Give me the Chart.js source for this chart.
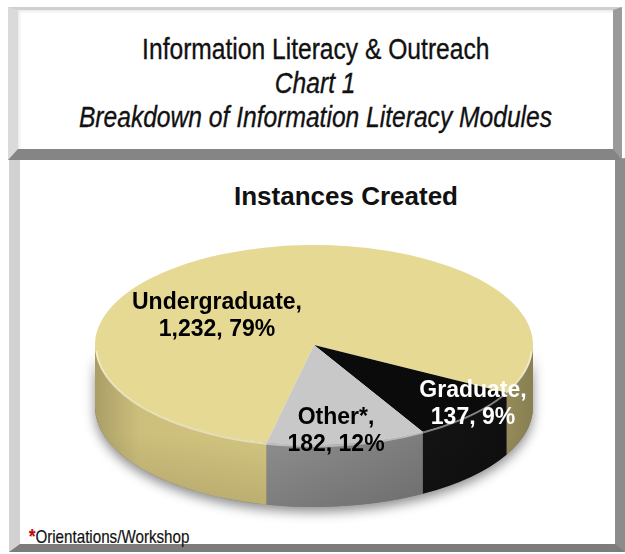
<!DOCTYPE html>
<html>
<head>
<meta charset="utf-8">
<script src="https://cdn.jsdelivr.net/npm/chart.js@4.4.1/dist/chart.umd.min.js"></script>
<style>
  html, body { margin: 0; padding: 0; background: #fff; }
  body { width: 625px; height: 554px; position: relative; overflow: hidden; font-family: "Liberation Sans", Arial, sans-serif; }
  .box { position: absolute; box-sizing: border-box; background: #fff; border-style: solid; }
  #head { left: 8px; top: 7px; width: 614px; height: 153px; z-index: 2;
    border-width: 3px 9px 11px 10px; border-color: #cfcfcf #9a9a9a #858585 #dadada;
    box-shadow: inset 2px 2px 3px rgba(0,0,0,0.08); padding-top: 22px; text-align: center; }
  #panel { left: 9px; top: 158px; width: 616px; height: 394px; z-index: 1;
    border-width: 2px 10px 8px 11px; border-color: #c8c8c8 #8c8c8c #7c7c7c #d2d2d2; }
  .line { font-size: 30px; line-height: 34px; color: #111; white-space: nowrap; -webkit-text-stroke: 0.35px #111; }
  .line span { display: inline-block; transform: scaleX(0.82); }
  .it { font-style: italic; }
  #sub { position: absolute; left: 0; width: 692px; top: 181px; text-align: center; z-index: 3;
    font-weight: bold; font-size: 26px; color: #111; }
  #note { position: absolute; left: 29px; top: 525px; z-index: 3; font-size: 18.5px; color: #111;
    transform: scaleX(0.82); transform-origin: left center; white-space: nowrap; -webkit-text-stroke: 0.2px #111; }
  #note b { color: #e00000; font-weight: bold; font-size: 20px; }
  #pie { position: absolute; left: 0; top: 0; z-index: 4; }
</style>
</head>
<body>
<div class="box" id="head">
  <div class="line"><span>Information Literacy &amp; Outreach</span></div>
  <div class="line it"><span>Chart 1</span></div>
  <div class="line it"><span>Breakdown of Information Literacy Modules</span></div>
</div>
<div class="box" id="panel"></div>
<div id="sub">Instances Created</div>
<div id="note"><b>*</b>Orientations/Workshop</div>
<div style="position:absolute;left:0;top:0;width:625px;height:554px;z-index:4;">
  <canvas id="pie"></canvas>
</div>

<script>
const categories = ['Undergraduate', 'Graduate', 'Other*'];
const instances = [1232, 137, 182];

const topColors = ['#e6d994', '#0b0b0b', '#c8c8c8'];
const sideColors = ['#d4c680', '#161616', '#8e8e8e'];
const labelColors = ['#000', '#fff', '#000'];
// label anchors, offset from the pie centre in px
const labelOffsets = [[-97, -29], [159, 59], [22, 86]];

const PIE_CX = 314, PIE_CY = 345;   // on-screen centre of the top face
const TILT = 100 / 219;             // vertical squash of the disc
const DEPTH = 62;                   // thickness of the disc

const total = instances.reduce((a, b) => a + b, 0);

function shade(hex, f) {
  const n = parseInt(hex.slice(1), 16);
  const c = [(n >> 16) & 255, (n >> 8) & 255, n & 255].map(v => Math.max(0, Math.min(255, Math.round(v * f))));
  return `rgb(${c[0]},${c[1]},${c[2]})`;
}

function sidePath(ctx, cx, cy, rx, ry, a, b) {
  ctx.beginPath();
  ctx.ellipse(cx, cy, rx, ry, 0, a, b, false);
  ctx.ellipse(cx, cy + DEPTH, rx, ry, 0, b, a, true);
  ctx.closePath();
}

const tiltedPie = {
  id: 'tiltedPie',
  beforeDatasetsDraw(chart) {
    const ctx = chart.ctx;
    const arcs = chart.getDatasetMeta(0).data;
    const r = arcs[0].outerRadius, ry = r * TILT;
    const cx = PIE_CX, cy = PIE_CY;

    // drop shadow under the disc
    ctx.save();
    ctx.shadowColor = 'rgba(0,0,0,0.45)';
    ctx.shadowBlur = 12;
    ctx.shadowOffsetY = 5;
    sidePath(ctx, cx, cy, r, ry, 0, Math.PI);
    ctx.fillStyle = '#777';
    ctx.fill();
    ctx.restore();

    // front wall of each slice
    arcs.forEach((arc, i) => {
      const s = arc.startAngle, e = arc.endAngle;
      const g = ctx.createLinearGradient(cx - r, 0, cx + r, 0);
      const base = sideColors[i];
      g.addColorStop(0, shade(base, 0.8));
      g.addColorStop(0.1, shade(base, 0.96));
      g.addColorStop(0.4, shade(base, 1.0));
      g.addColorStop(0.75, shade(base, 0.88));
      g.addColorStop(1, shade(base, 0.64));
      for (let k = -1; k <= 2; k++) {
        const lo = Math.max(s, 2 * Math.PI * k);
        const hi = Math.min(e, 2 * Math.PI * k + Math.PI);
        if (hi <= lo) continue;
        sidePath(ctx, cx, cy, r, ry, lo, hi);
        ctx.fillStyle = g;
        ctx.fill();
        // slightly darker towards the bottom edge
        const v = ctx.createLinearGradient(0, cy, 0, cy + ry + DEPTH);
        v.addColorStop(0, 'rgba(0,0,0,0.0)');
        v.addColorStop(0.55, 'rgba(0,0,0,0.0)');
        v.addColorStop(1, 'rgba(0,0,0,0.12)');
        ctx.fillStyle = v;
        ctx.fill();
      }
    });

    // squash the library's own arcs into the top face
    ctx.save();
    ctx.translate(cx, cy);
    ctx.scale(1, TILT);
    ctx.translate(-arcs[0].x, -arcs[0].y);
  },
  afterDatasetsDraw(chart) {
    const ctx = chart.ctx;
    ctx.restore();
    const arcs = chart.getDatasetMeta(0).data;
    const r = arcs[0].outerRadius, ry = r * TILT;

    // highlight along the front rim
    ctx.save();
    ctx.beginPath();
    ctx.ellipse(PIE_CX, PIE_CY + 1, r - 1, ry, 0, 0.05, Math.PI - 0.05);
    ctx.strokeStyle = 'rgba(255,255,255,0.45)';
    ctx.lineWidth = 2;
    ctx.stroke();
    ctx.restore();

    // data labels
    ctx.save();
    ctx.font = 'bold 23px "Liberation Sans", Arial, sans-serif';
    ctx.textAlign = 'center';
    ctx.textBaseline = 'middle';
    categories.forEach((name, i) => {
      const pct = Math.round(instances[i] / total * 100);
      const x = PIE_CX + labelOffsets[i][0];
      const y = PIE_CY + labelOffsets[i][1];
      ctx.fillStyle = labelColors[i];
      ctx.fillText(name + ',', x, y - 13);
      ctx.fillText(instances[i].toLocaleString('en-US') + ', ' + pct + '%', x, y + 14);
    });
    ctx.restore();
  }
};

new Chart(document.getElementById('pie'), {
  type: 'pie',
  data: {
    labels: categories,
    datasets: [{
      data: instances,
      backgroundColor: topColors,
      borderWidth: 0
    }]
  },
  options: {
    responsive: true,
    maintainAspectRatio: false,
    animation: false,
    rotation: 192.5,
    layout: { padding: { left: 95, right: 92, top: 58, bottom: 58 } },
    plugins: {
      legend: { display: false },
      tooltip: { enabled: false },
      title: { display: false }
    }
  },
  plugins: [tiltedPie]
});
</script>
</body>
</html>
